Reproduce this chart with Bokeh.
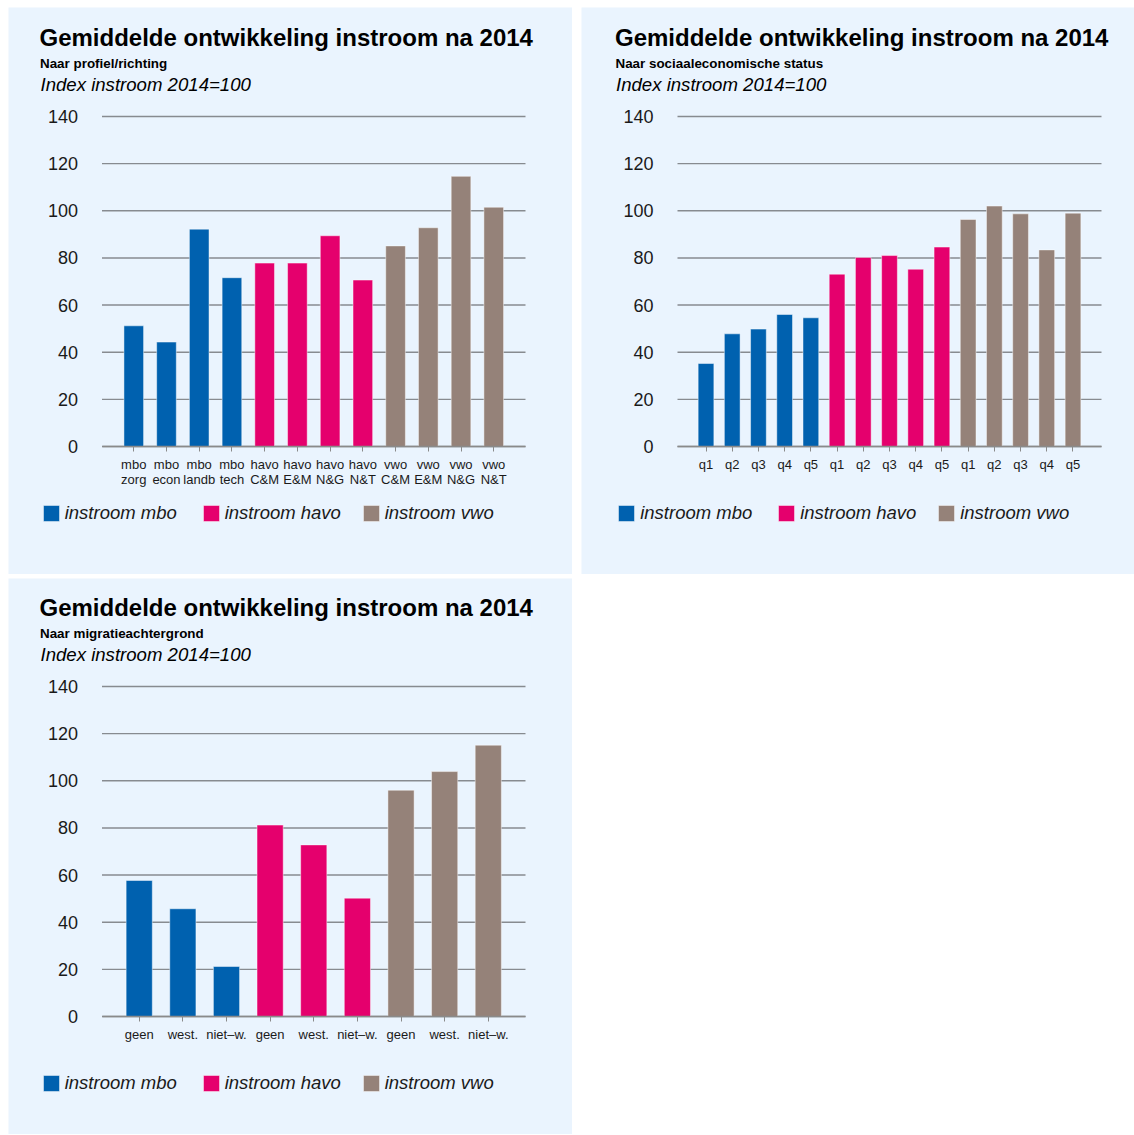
from bokeh.plotting import figure
from bokeh.models import ColumnDataSource, Range1d, FixedTicker, Label, Legend, LegendItem
from bokeh.core.properties import value
from bokeh.layouts import row, column
from bokeh.transform import factor_cmap
from bokeh.embed import file_html
from bokeh.resources import INLINE

# ---------------- data ----------------
GROUPS = ["instroom mbo", "instroom havo", "instroom vwo"]
COLORS = ["#0061AF", "#E5006D", "#958279"]

TITLE = "Gemiddelde ontwikkeling instroom na 2014"
INDEX_TEXT = "Index instroom 2014=100"
Y_TICKS = [0, 20, 40, 60, 80, 100, 120, 140]

sub_profiel = "Naar profiel/richting"
labels_profiel = ["mbo\nzorg", "mbo\necon", "mbo\nlandb", "mbo\ntech",
                  "havo\nC&M", "havo\nE&M", "havo\nN&G", "havo\nN&T",
                  "vwo\nC&M", "vwo\nE&M", "vwo\nN&G", "vwo\nN&T"]
values_profiel = [51.2, 44.3, 92.2, 71.6, 77.8, 77.8, 89.4, 70.6, 85.1, 92.8, 114.6, 101.5]
groups_profiel = ["instroom mbo"] * 4 + ["instroom havo"] * 4 + ["instroom vwo"] * 4

sub_ses = "Naar sociaaleconomische status"
labels_ses = ["q1", "q2", "q3", "q4", "q5",
              "q1", "q2", "q3", "q4", "q5",
              "q1", "q2", "q3", "q4", "q5"]
values_ses = [35.2, 47.8, 49.8, 56.0, 54.6, 73.1, 80.2, 81.0, 75.2, 84.6, 96.3, 102.0, 98.7, 83.4, 99.0]
groups_ses = ["instroom mbo"] * 5 + ["instroom havo"] * 5 + ["instroom vwo"] * 5

sub_migr = "Naar migratieachtergrond"
labels_migr = ["geen", "west.", "niet–w.", "geen", "west.", "niet–w.", "geen", "west.", "niet–w."]
values_migr = [57.7, 45.7, 21.2, 81.2, 72.8, 50.2, 96.0, 103.9, 115.1]
groups_migr = ["instroom mbo"] * 3 + ["instroom havo"] * 3 + ["instroom vwo"] * 3

# ---------------- style ----------------
BG = "#EAF4FE"
GRID = "#878b90"
AXIS = "#8a8a8a"
FONT = "Liberation Sans"
TEXT = "#1a1a1a"
PAD = 15.4  # px between plot-area edge and the outer category slots


def make_panel(subtitle, labels, values, groups, W, H, fl, fr, gt, gz):
    """fl/fr: pixel x of plot area left/right; gt/gz: pixel y (from top) of 140 and 0."""
    n = len(labels)
    k = (gz - gt) / 140.0                  # px per unit
    il, ir = fl + PAD, fr - PAD            # inner span used by the categories
    c = (ir - il) / n                      # px per category
    x_range = Range1d(-0.5 - il / c, n - 0.5 + (W - ir) / c)
    y_range = Range1d(-(H - gz) / k, 140 + gt / k)
    xa, xb = -0.5 - PAD / c, n - 0.5 + PAD / c   # data x of plot-area edges

    src = ColumnDataSource(dict(x=list(range(n)), value=values, group=groups))
    p = figure(width=W, height=H, x_range=x_range, y_range=y_range,
               output_backend="svg", toolbar_location=None, tools="",
               min_border=0, min_border_left=0, min_border_right=0,
               min_border_top=0, min_border_bottom=0,
               background_fill_color=BG, border_fill_color=BG,
               outline_line_color=None)
    p.title.visible = False

    # grid lines (only across the plot area)
    gsrc = ColumnDataSource(dict(y=Y_TICKS, x0=[xa] * len(Y_TICKS), x1=[xb] * len(Y_TICKS)))
    p.segment(x0="x0", x1="x1", y0="y", y1="y", source=gsrc,
              line_color=GRID, line_width=1.4)

    r = p.vbar(x="x", top="value", width=0.6, source=src,
               fill_color=factor_cmap("group", COLORS, GROUPS),
               line_color="white", line_alpha=0.45, line_width=1)

    # y axis (fixed at left edge of plot area)
    p.yaxis.fixed_location = xa
    p.yaxis.ticker = FixedTicker(ticks=Y_TICKS)
    p.yaxis.axis_line_color = None
    p.yaxis.major_tick_line_color = None
    p.yaxis.minor_tick_line_color = None
    p.yaxis.major_tick_out = 0
    p.yaxis.major_tick_in = 0
    p.yaxis.major_label_standoff = 24
    p.yaxis.major_label_text_font = FONT
    p.yaxis.major_label_text_font_size = "18px"
    p.yaxis.major_label_text_color = TEXT

    # x axis (fixed at 0)
    p.xaxis.fixed_location = 0
    p.xaxis.bounds = (xa, xb)
    p.xaxis.ticker = FixedTicker(ticks=list(range(n)))
    p.xaxis.major_label_overrides = {i: lab for i, lab in enumerate(labels)}
    p.xaxis.axis_line_color = AXIS
    p.xaxis.axis_line_width = 1.4
    p.xaxis.major_tick_line_color = AXIS
    p.xaxis.minor_tick_line_color = None
    p.xaxis.major_tick_out = 5
    p.xaxis.major_tick_in = 0
    p.xaxis.major_label_standoff = 5
    p.xaxis.major_label_text_font = FONT
    p.xaxis.major_label_text_font_size = "13px"
    p.xaxis.major_label_text_line_height = 1.05
    p.xaxis.major_label_text_color = TEXT

    p.xgrid.visible = False
    p.ygrid.visible = False

    # titles (screen units: from left / bottom of the panel)
    tx = fl - 62.5
    p.add_layout(Label(x=tx, y=H - (gt - 78.9), x_units="screen", y_units="screen", text=TITLE,
                       text_font=FONT, text_font_size="24px", text_font_style="bold",
                       text_baseline="alphabetic", text_color="black"))
    p.add_layout(Label(x=tx + 0.5, y=H - (gt - 52.7), x_units="screen", y_units="screen", text=subtitle,
                       text_font=FONT, text_font_size="13.4px", text_font_style="bold",
                       text_baseline="alphabetic", text_color="black"))
    p.add_layout(Label(x=tx + 1, y=H - (gt - 31.8), x_units="screen", y_units="screen", text=INDEX_TEXT,
                       text_font=FONT, text_font_size="18.6px", text_font_style="italic",
                       text_baseline="alphabetic", text_color="black"))

    # legend (fixed order mbo, havo, vwo)
    items = [LegendItem(label=value(g), renderers=[r], index=groups.index(g)) for g in GROUPS]
    leg = Legend(items=items, location=(fl - 60.8, H - (gz + 78)),
                 orientation="horizontal",
                 background_fill_alpha=0, border_line_alpha=0,
                 padding=0, margin=0, spacing=6,
                 glyph_width=20, glyph_height=20,
                 label_standoff=4, label_width=130, label_height=16,
                 label_text_font=FONT, label_text_font_size="18.5px",
                 label_text_font_style="italic", label_text_color=TEXT)
    p.add_layout(leg)
    return p


p1 = make_panel(sub_profiel, labels_profiel, values_profiel, groups_profiel, 564, 567, 93.5, 517, 109, 439)
p2 = make_panel(sub_ses, labels_ses, values_ses, groups_ses, 553, 567, 96, 520, 109, 439)
p3 = make_panel(sub_migr, labels_migr, values_migr, groups_migr, 564, 556, 93.5, 517, 108, 438)

layout = column(row(p1, p2, spacing=9), p3, spacing=4, margin=(7, 0, 0, 8))

with open("out.html", "w") as f:
    f.write(file_html(layout, INLINE, title="Gemiddelde ontwikkeling instroom na 2014"))
